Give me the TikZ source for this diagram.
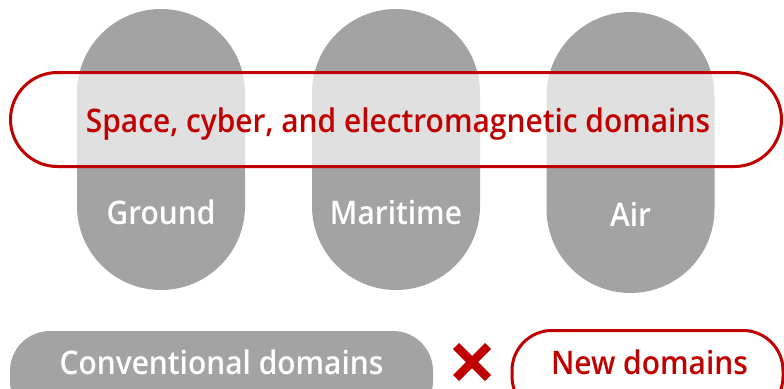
\documentclass[tikz,border=0pt]{standalone}
\usepackage{fontspec}
\setmainfont{Open Sans}[FakeStretch=0.92]
\IfFontExistsTF{Open Sans Semibold}{%
  \newfontfamily\semib{Open Sans Semibold}[FakeStretch=0.92]%
}{%
  \IfFontExistsTF{Open Sans SemiBold}{%
    \newfontfamily\semib{Open Sans SemiBold}[FakeStretch=0.92]%
  }{%
    \IfFontExistsTF{OpenSans-SemiBold}{%
      \newfontfamily\semib{OpenSans-SemiBold}[FakeStretch=0.92]%
    }{%
      \newfontfamily\semib{Open Sans}[FakeStretch=0.88,UprightFont=*-Bold]%
    }%
  }%
}
\definecolor{pillgray}{HTML}{A3A3A3}
\definecolor{domred}{HTML}{C00000}
\tikzset{
  pill/.style={draw=none, fill=pillgray, rectangle, rounded corners=84pt,
    minimum width=168pt, minimum height=281pt, inner sep=0pt},
  pilltext/.style={text=white, font=\semib\fontsize{32.5}{36}\selectfont, inner sep=0pt, anchor=base},
  band/.style={draw=domred, line width=3pt, fill=white, fill opacity=0.67,
    rectangle, rounded corners=47pt, minimum width=771pt, minimum height=94pt, inner sep=0pt},
  bandtext/.style={text=domred, font=\semib\fontsize{32.5}{36}\selectfont, inner sep=0pt, anchor=base},
  convpill/.style={draw=none, fill=pillgray, rectangle, rounded corners=40pt,
    minimum width=423pt, minimum height=90pt, inner sep=0pt},
  newpill/.style={draw=domred, line width=3pt, fill=white, rectangle, rounded corners=40pt,
    minimum width=271pt, minimum height=86pt, inner sep=0pt},
  xstroke/.style={draw=domred, line width=8.5pt},
}
\begin{document}
\begin{tikzpicture}[x=1pt,y=-1pt]
\useasboundingbox (0,0) rectangle (784,388);
% vertical pills
\node[pill] (ground) at (161,149.5) {};
\node[pill] (maritime) at (396,149.5) {};
\node[pill] (air) at (630.5,152.5) {};
% band
\node[band] (band) at (396,119.5) {};
\node[bandtext] (bandlbl) at (398,132) {Space, cyber, and electromagnetic domains};
% pill labels
\node[pilltext] (groundlbl) at (161,224) {Ground};
\node[pilltext] (maritimelbl) at (396,224) {Maritime};
\node[pilltext] (airlbl) at (630.5,226) {Air};
% bottom legend
\node[convpill] (conv) at (221.5,376) {};
\node[pilltext] (convlbl) at (221.5,374) {Conventional domains};
\node[newpill] (new) at (647.5,373.5) {};
\node[bandtext] (newlbl) at (649.5,374) {New domains};
\coordinate (xa) at (456,346);
\coordinate (xb) at (488,378);
\coordinate (xc) at (488,346);
\coordinate (xd) at (456,378);
\draw[xstroke] (xa) -- (xb);
\draw[xstroke] (xc) -- (xd);
\end{tikzpicture}
\end{document}
